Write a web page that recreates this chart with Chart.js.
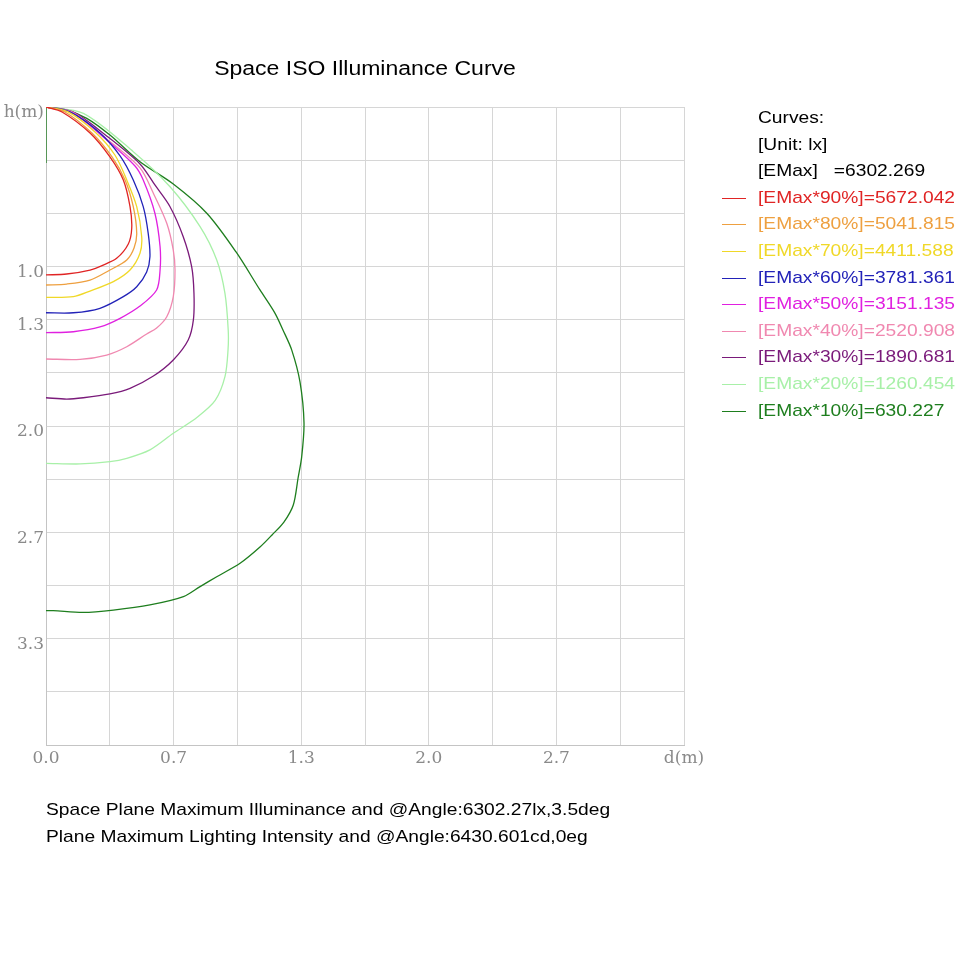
<!DOCTYPE html>
<html lang="en">
<head>
  <meta charset="UTF-8">
  <title>Space ISO Illuminance Curve</title>
  <script src="https://cdn.jsdelivr.net/npm/chart.js"></script>
  <style>
    body { margin: 0; background: #fff; }
    #wrap { position: relative; width: 970px; height: 970px; font-family: "Liberation Sans", Arial, sans-serif; }
    #chart { position: absolute; left: 0; top: 0; }
    #title { position: absolute; left: 46px; width: 638px; top: 54px; line-height: 28px; font-size: 20px; text-align: center; transform: scaleX(1.15); }
    #legend { position: absolute; left: 0; top: 105px; width: 970px; }
    .row { position: relative; height: 26.6px; line-height: 26.6px; font-size: 17px; }
    .row .txt { position: absolute; left: 758px; white-space: pre; transform: scaleX(1.13); transform-origin: left center; }
    .row .swatch { position: absolute; left: 722px; top: 13px; width: 24px; border-top: 1px solid; }
    #notes { position: absolute; left: 46px; top: 796px; font-size: 17px; line-height: 27px; white-space: nowrap; transform: scaleX(1.13); transform-origin: left top; }
  </style>
</head>
<body>
<div id="wrap">
  <canvas id="chart" width="970" height="970"></canvas>
  <div id="title">Space ISO Illuminance Curve</div>
  <div id="legend"></div>
  <div id="notes"></div>
</div>

<script>
  // axis ticks (one per grid line, step = 1/3 m)
  const xTickLabels = ['0.0', '', '0.7', '', '1.3', '', '2.0', '', '2.7', '', 'd(m)'];
  const yTickLabels = ['h(m)', '', '', '1.0', '1.3', '', '2.0', '', '2.7', '', '3.3', '', ''];
  const gridStep = 1 / 3;

  // legend header + levels
  const headerLines = ['Curves:', '[Unit: lx]', '[EMax]   =6302.269'];
  const levelPct = [90, 80, 70, 60, 50, 40, 30, 20, 10];
  const levelLux = ['5672.042', '5041.815', '4411.588', '3781.361', '3151.135', '2520.908', '1890.681', '1260.454', '630.227'];
  const noteLines = [
    'Space Plane Maximum Illuminance and @Angle:6302.27lx,3.5deg',
    'Plane Maximum Lighting Intensity and @Angle:6430.601cd,0eg'
  ];

  // iso curves, [d (m), h (m)]
  const e90 = [[0, 0], [0.084, 0.031], [0.23, 0.163], [0.334, 0.313], [0.404, 0.458], [0.439, 0.625], [0.448, 0.759], [0.43, 0.859], [0.369, 0.949], [0.299, 0.991], [0.23, 1.022], [0.108, 1.047], [0, 1.053]];
  const e80 = [[0, 0], [0.099, 0.031], [0.24, 0.163], [0.345, 0.313], [0.413, 0.458], [0.456, 0.625], [0.474, 0.792], [0.46, 0.884], [0.422, 0.959], [0.334, 1.022], [0.23, 1.085], [0.108, 1.11], [0, 1.116]];
  const e70 = [[0, 0], [0.115, 0.031], [0.256, 0.157], [0.36, 0.301], [0.422, 0.458], [0.474, 0.625], [0.5, 0.813], [0.491, 0.917], [0.439, 1.022], [0.352, 1.095], [0.23, 1.154], [0.143, 1.189], [0, 1.194]];
  const e60 = [[0, 0], [0.125, 0.031], [0.282, 0.163], [0.387, 0.307], [0.456, 0.458], [0.508, 0.625], [0.534, 0.792], [0.543, 0.939], [0.526, 1.034], [0.474, 1.127], [0.404, 1.189], [0.282, 1.262], [0.143, 1.29], [0, 1.29]];
  const e50 = [[0, 0], [0.141, 0.039], [0.317, 0.207], [0.465, 0.37], [0.508, 0.458], [0.569, 0.666], [0.596, 0.876], [0.596, 1.022], [0.578, 1.147], [0.491, 1.248], [0.387, 1.325], [0.282, 1.379], [0.143, 1.409], [0, 1.415]];
  const e40 = [[0, 0], [0.141, 0.034], [0.317, 0.2], [0.491, 0.382], [0.561, 0.541], [0.631, 0.729], [0.665, 0.897], [0.674, 1.022], [0.665, 1.189], [0.631, 1.315], [0.578, 1.386], [0.526, 1.423], [0.422, 1.503], [0.317, 1.555], [0.178, 1.582], [0, 1.58]];
  const e30 = [[0, 0], [0.141, 0.031], [0.317, 0.182], [0.491, 0.357], [0.569, 0.489], [0.648, 0.625], [0.717, 0.813], [0.761, 1.001], [0.773, 1.166], [0.77, 1.335], [0.743, 1.461], [0.665, 1.586], [0.561, 1.687], [0.439, 1.764], [0.334, 1.799], [0.195, 1.823], [0.108, 1.831], [0, 1.823]];
  const e20 = [[0, 0], [0.195, 0.04], [0.456, 0.28], [0.648, 0.5], [0.805, 0.75], [0.892, 0.959], [0.935, 1.168], [0.952, 1.398], [0.951, 1.524], [0.935, 1.691], [0.884, 1.84], [0.79, 1.945], [0.665, 2.046], [0.543, 2.15], [0.422, 2.203], [0.334, 2.224], [0.178, 2.238], [0, 2.234]];
  const e10 = [[0, 0.351], [0, 0], [0.108, 0.019], [0.213, 0.071], [0.334, 0.176], [0.491, 0.343], [0.665, 0.483], [0.84, 0.666], [0.993, 0.909], [1.118, 1.147], [1.196, 1.292], [1.238, 1.398], [1.284, 1.524], [1.327, 1.724], [1.348, 1.981], [1.336, 2.192], [1.317, 2.326], [1.292, 2.495], [1.243, 2.602], [1.181, 2.683], [1.118, 2.759], [1.014, 2.861], [0.892, 2.945], [0.805, 3.007], [0.718, 3.07], [0.543, 3.122], [0.352, 3.154], [0.195, 3.169], [0.038, 3.158], [0, 3.158]];

  const curves = [e90, e80, e70, e60, e50, e40, e30, e20, e10];
  const colors = ['#e02424', '#eea040', '#f0d828', '#2222b8', '#e020e0', '#f088b0', '#7a1a7a', '#a8f0a8', '#1e7e1e'];

  const datasets = curves.map((pts, i) => ({
    label: `[EMax*${levelPct[i]}%]=${levelLux[i]}`,
    data: pts.map(([d, h]) => ({ x: d, y: h })),
    borderColor: colors[i],
    borderWidth: 1.3,
    showLine: true,
    pointRadius: 0,
    tension: 0.3,
    fill: false
  }));

  const tickFont = { family: 'DejaVu Serif', size: 17 };

  new Chart(document.getElementById('chart'), {
    type: 'scatter',
    data: { datasets },
    options: {
      responsive: false,
      animation: false,
      layout: { padding: { left: 0, top: 107, right: 286, bottom: 185 } },
      plugins: { legend: { display: false }, tooltip: { enabled: false } },
      scales: {
        x: {
          type: 'linear',
          min: 0,
          max: 10 * gridStep,
          afterBuildTicks: s => { s.ticks = xTickLabels.map((_, i) => ({ value: i * gridStep })); },
          afterFit: s => { s.height = 40; },
          ticks: { autoSkip: false, maxRotation: 0, padding: 3, color: '#8a8a8a', font: tickFont, callback: (v, i) => xTickLabels[i] },
          grid: { color: '#d6d6d6', drawTicks: false },
          border: { color: '#c4c4c4' }
        },
        y: {
          type: 'linear',
          reverse: true,
          min: 0,
          max: 12 * gridStep,
          afterBuildTicks: s => { s.ticks = yTickLabels.map((_, i) => ({ value: i * gridStep })); },
          afterFit: s => { s.width = 46; },
          ticks: { autoSkip: false, padding: 2, labelOffset: 6, color: '#8a8a8a', font: tickFont, callback: (v, i) => yTickLabels[i] },
          grid: { color: '#d6d6d6', drawTicks: false },
          border: { color: '#c4c4c4' }
        }
      }
    }
  });

  // legend block on the right
  const legend = document.getElementById('legend');
  headerLines.forEach(t => {
    legend.insertAdjacentHTML('beforeend', `<div class="row"><span class="txt">${t}</span></div>`);
  });
  datasets.forEach(ds => {
    legend.insertAdjacentHTML('beforeend',
      `<div class="row"><span class="swatch" style="border-color:${ds.borderColor}"></span>` +
      `<span class="txt" style="color:${ds.borderColor}">${ds.label}</span></div>`);
  });

  document.getElementById('notes').innerHTML = noteLines.map(t => `<div>${t}</div>`).join('');
</script>
</body>
</html>
